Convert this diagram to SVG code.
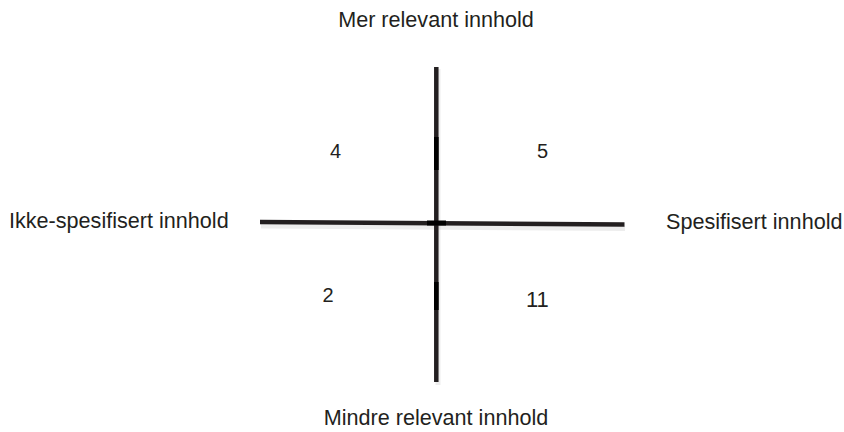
<svg xmlns="http://www.w3.org/2000/svg" width="844" height="432" viewBox="0 0 844 432">
<defs>
<style>
.lbl{font-family:"Liberation Sans",Arial,sans-serif;font-size:21.6px;fill:#231f20}
.num{font-family:"Liberation Sans",Arial,sans-serif;font-size:20px;fill:#231f20}
.axis{stroke:#231f20;stroke-width:4.5;fill:none}
.shadow{stroke:#000;stroke-opacity:0.07;stroke-width:5;fill:none}
.blk{fill:#000}
</style>
</defs>
<rect width="844" height="432" fill="#fff"/>
<g id="connectors">
<line class="shadow" x1="438" y1="69" x2="438" y2="385"/>
<line class="shadow" x1="261" y1="226" x2="625" y2="228.5"/>
<line class="axis" x1="436.3" y1="67" x2="436.3" y2="382"/>
<line class="axis" x1="260" y1="222" x2="624.5" y2="224.5"/>
<rect class="blk" x="434" y="137" width="4.6" height="33"/>
<rect class="blk" x="434" y="282" width="4.6" height="28"/>
<rect class="blk" x="427" y="220.5" width="19" height="5"/>
</g>
<g id="top"><text class="lbl" x="436" y="27" text-anchor="middle">Mer relevant innhold</text></g>
<g id="bottom"><text class="lbl" x="436" y="425" text-anchor="middle">Mindre relevant innhold</text></g>
<g id="left"><text class="lbl" x="9" y="228">Ikke-spesifisert innhold</text></g>
<g id="right"><text class="lbl" x="666" y="229">Spesifisert innhold</text></g>
<g id="q4"><text class="num" x="330" y="158">4</text></g>
<g id="q5"><text class="num" x="537" y="158">5</text></g>
<g id="q2"><text class="num" x="322.5" y="302">2</text></g>
<g id="q11"><text class="num" x="526" y="307" style="font-size:22px">11</text></g>
</svg>
